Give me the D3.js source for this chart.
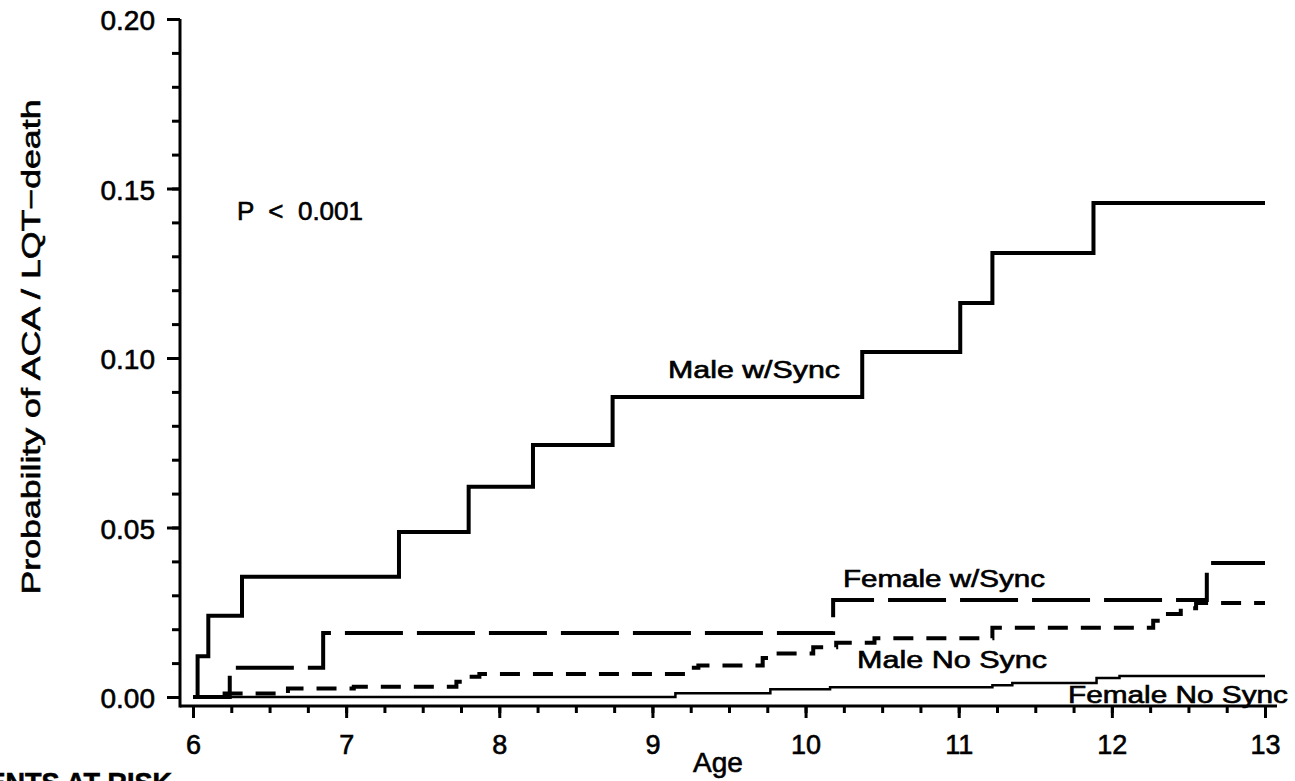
<!DOCTYPE html>
<html>
<head>
<meta charset="utf-8">
<script src="https://cdn.jsdelivr.net/npm/d3@7"></script>
<style>
  body { margin: 0; background: #fff; }
  svg { display: block; font-family: "Liberation Sans", Arial, sans-serif; }
  svg text { fill: #000; stroke: #000; stroke-width: 0.6px; }
  .axis path { display: none; }
  .axis line { stroke: #000; stroke-width: 3; }
</style>
</head>
<body>
<div id="chart"></div>
<script>
// step curves (age, cumulative probability)
var maleSyncAge  = [6.0, 6.03, 6.10, 6.32, 7.345, 7.80, 8.22, 8.74, 10.37, 11.01, 11.22, 11.88, 13.0];
var maleSyncProb = [0, 0.012, 0.024, 0.0355, 0.0487, 0.062, 0.0743, 0.0885, 0.1018, 0.1162, 0.131, 0.1457, 0.1457];

var femaleSyncAge  = [6.0, 6.24, 6.85, 10.18, 12.62, 13.0];
var femaleSyncProb = [0, 0.0086, 0.0189, 0.0286, 0.0395, 0.0395];

var maleNoSyncAge  = [6.0, 6.12, 6.62, 7.05, 7.72, 7.80, 7.87, 9.23, 9.30, 9.72, 9.78, 10.05, 10.2, 10.45, 11.22, 12.27, 12.35, 12.45, 12.55, 13.0];
var maleNoSyncProb = [0, 0.001, 0.0025, 0.003, 0.0045, 0.006, 0.0068, 0.0086, 0.0093, 0.0115, 0.0128, 0.0147, 0.016, 0.0173, 0.0204, 0.0225, 0.0245, 0.0262, 0.0277, 0.0277];

var femaleNoSyncAge  = [6.0, 9.15, 9.77, 10.16, 11.22, 11.35, 11.9, 12.05, 13.0];
var femaleNoSyncProb = [0, 0.0011, 0.0023, 0.0029, 0.0035, 0.0041, 0.0056, 0.0062, 0.0062];

var xTicks = [6, 7, 8, 9, 10, 11, 12, 13];
var yTicks = [0, 0.05, 0.10, 0.15, 0.20];

var width = 1295, height = 781;

var svg = d3.select("#chart").append("svg")
  .attr("width", width)
  .attr("height", height);

var x = d3.scaleLinear().domain([6, 13]).range([193, 1265]);
var y = d3.scaleLinear().domain([0, 0.2]).range([697, 19]);

var xAxisY = y(0) + 9;
var yAxisX = x(6) - 13;

// minor ticks
svg.append("g")
  .attr("class", "axis")
  .attr("transform", "translate(0," + xAxisY + ")")
  .call(d3.axisBottom(x).tickValues(d3.range(6, 13.01, 0.25)).tickSize(7).tickFormat(""));

svg.append("g")
  .attr("class", "axis")
  .attr("transform", "translate(" + yAxisX + ",0)")
  .call(d3.axisLeft(y).tickValues(d3.range(0, 0.2001, 0.01)).tickSize(8).tickFormat(""));

// major ticks
svg.append("g")
  .attr("class", "axis")
  .attr("transform", "translate(0," + xAxisY + ")")
  .call(d3.axisBottom(x).tickValues(xTicks).tickSize(12).tickPadding(17).tickFormat(d3.format("d")))
  .selectAll("text").style("font-size", "27px");

svg.append("g")
  .attr("class", "axis")
  .attr("transform", "translate(" + yAxisX + ",0)")
  .call(d3.axisLeft(y).tickValues(yTicks).tickSize(13).tickPadding(12).tickFormat(d3.format(".2f")))
  .selectAll("text").style("font-size", "28px").attr("dy", "0.38em");

// axis lines
svg.append("line")
  .attr("x1", yAxisX).attr("x2", x(13) + 12)
  .attr("y1", xAxisY).attr("y2", xAxisY)
  .attr("stroke", "#000").attr("stroke-width", 3);

svg.append("line")
  .attr("x1", yAxisX).attr("x2", yAxisX)
  .attr("y1", y(0.2)).attr("y2", xAxisY + 1.5)
  .attr("stroke", "#000").attr("stroke-width", 3);

var line = d3.line()
  .x(function(d) { return x(d[0]); })
  .y(function(d) { return y(d[1]); })
  .curve(d3.curveStepAfter);

function drawCurve(ages, probs, w, dash) {
  svg.append("path")
    .datum(d3.zip(ages, probs))
    .attr("d", line)
    .attr("fill", "none")
    .attr("stroke", "#000")
    .attr("stroke-width", w)
    .attr("stroke-linejoin", "miter")
    .attr("stroke-dasharray", dash);
}

drawCurve(femaleNoSyncAge, femaleNoSyncProb, 2.5, null);
drawCurve(maleNoSyncAge, maleNoSyncProb, 4, "20,13");
drawCurve(femaleSyncAge, femaleSyncProb, 4, "58,14");
drawCurve(maleSyncAge, maleSyncProb, 4, null);

// labels
function label(txt, x0, y0, size, len) {
  svg.append("text")
    .attr("x", x0).attr("y", y0)
    .attr("xml:space", "preserve")
    .style("white-space", "pre")
    .style("font-size", size + "px")
    .attr("textLength", len)
    .attr("lengthAdjust", "spacingAndGlyphs")
    .text(txt);
}

label("Male w/Sync", 668, 378, 23, 172);
label("Female w/Sync", 843, 587, 23, 202);
label("Male No Sync", 857, 668, 23, 190);
label("Female No Sync", 1068, 703, 23, 220);
label("P  <  0.001", 237, 220, 25, 126);

svg.append("text")
  .attr("x", 718).attr("y", 772)
  .attr("text-anchor", "middle")
  .style("font-size", "28px")
  .text("Age");

svg.append("text")
  .attr("transform", "translate(40,347) rotate(-90)")
  .attr("text-anchor", "middle")
  .style("font-size", "26px")
  .attr("textLength", 495)
  .attr("lengthAdjust", "spacingAndGlyphs")
  .text("Probability of ACA / LQT\u2212death");

svg.append("text")
  .attr("x", 172).attr("y", 792)
  .attr("text-anchor", "end")
  .style("font-size", "27px")
  .style("font-weight", "bold")
  .text("PATIENTS AT RISK");
</script>
</body>
</html>
